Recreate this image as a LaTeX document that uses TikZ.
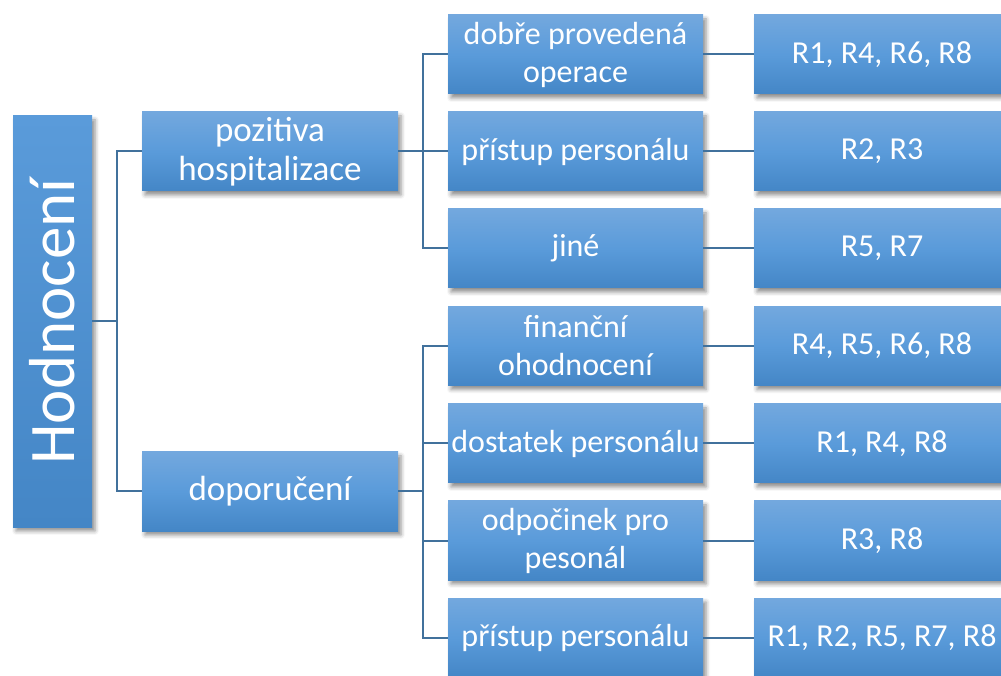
\documentclass[tikz,border=0pt]{standalone}
\usepackage{fontspec}
\setmainfont{Carlito}
\usetikzlibrary{shadows.blur}
\definecolor{boxtop}{HTML}{73A8DE}
\definecolor{boxmid}{HTML}{5A9BDA}
\definecolor{boxbot}{HTML}{4486C6}
\definecolor{linec}{HTML}{41719C}
\tikzset{
  bluebox/.style={rectangle, minimum width=256pt, minimum height=79pt, inner sep=0pt,
    top color=boxtop, bottom color=boxbot, middle color=boxmid, text=white, align=center,
    font=\fontsize{32}{38}\selectfont,
    blur shadow={shadow xshift=3pt, shadow yshift=-4pt, shadow blur radius=4pt, shadow opacity=45}},
  levelone/.style={bluebox, font=\fontsize{35}{39}\selectfont},
  conn/.style={draw=linec, line width=2pt}
}
\begin{document}
\begin{tikzpicture}[x=1pt,y=1pt]
\useasboundingbox (0,0) rectangle (1001,675);
% root
\node[bluebox, rotate=90, minimum width=411pt, minimum height=79pt,
  top color=boxmid, middle color=boxmid!85!boxbot, bottom color=boxbot,
  font=\fontsize{65}{70}\selectfont] (H) at (52.5,353.5) {Hodnocení};
% level 1
\node[levelone] (poz) at (270,523.5) {pozitiva\\hospitalizace};
\node[levelone] (dop) at (270,183.5) {doporučení};
% level 2
\node[bluebox, minimum width=255pt] (a1) at (575.5,620.5) {dobře provedená\\operace};
\node[bluebox, minimum width=255pt] (a2) at (575.5,523.5) {přístup personálu};
\node[bluebox, minimum width=255pt] (a3) at (575.5,426.5) {jiné};
\node[bluebox, minimum width=255pt] (b1) at (575.5,329) {finanční\\ohodnocení};
\node[bluebox, minimum width=255pt] (b2) at (575.5,231.5) {dostatek personálu};
\node[bluebox, minimum width=255pt] (b3) at (575.5,134.5) {odpočinek pro\\pesonál};
\node[bluebox, minimum width=255pt] (b4) at (575.5,37.5) {přístup personálu};
% level 3
\node[bluebox] (c1) at (882,620.5) {R1, R4, R6, R8};
\node[bluebox] (c2) at (882,523.5) {R2, R3};
\node[bluebox] (c3) at (882,426.5) {R5, R7};
\node[bluebox] (d1) at (882,329) {R4, R5, R6, R8};
\node[bluebox] (d2) at (882,231.5) {R1, R4, R8};
\node[bluebox] (d3) at (882,134.5) {R3, R8};
\node[bluebox] (d4) at (882,37.5) {R1, R2, R5, R7, R8};
% connectors
\draw[conn] (H.south) -- ++(25,0) |- (poz.west);
\draw[conn] (H.south) -- ++(25,0) |- (dop.west);
\foreach \t in {a1,a2,a3} \draw[conn] (poz.east) -- ++(25,0) |- (\t.west);
\foreach \t in {b1,b2,b3,b4} \draw[conn] (dop.east) -- ++(25,0) |- (\t.west);
\draw[conn] (a1) -- (c1);
\draw[conn] (a2) -- (c2);
\draw[conn] (a3) -- (c3);
\draw[conn] (b1) -- (d1);
\draw[conn] (b2) -- (d2);
\draw[conn] (b3) -- (d3);
\draw[conn] (b4) -- (d4);
\end{tikzpicture}
\end{document}
